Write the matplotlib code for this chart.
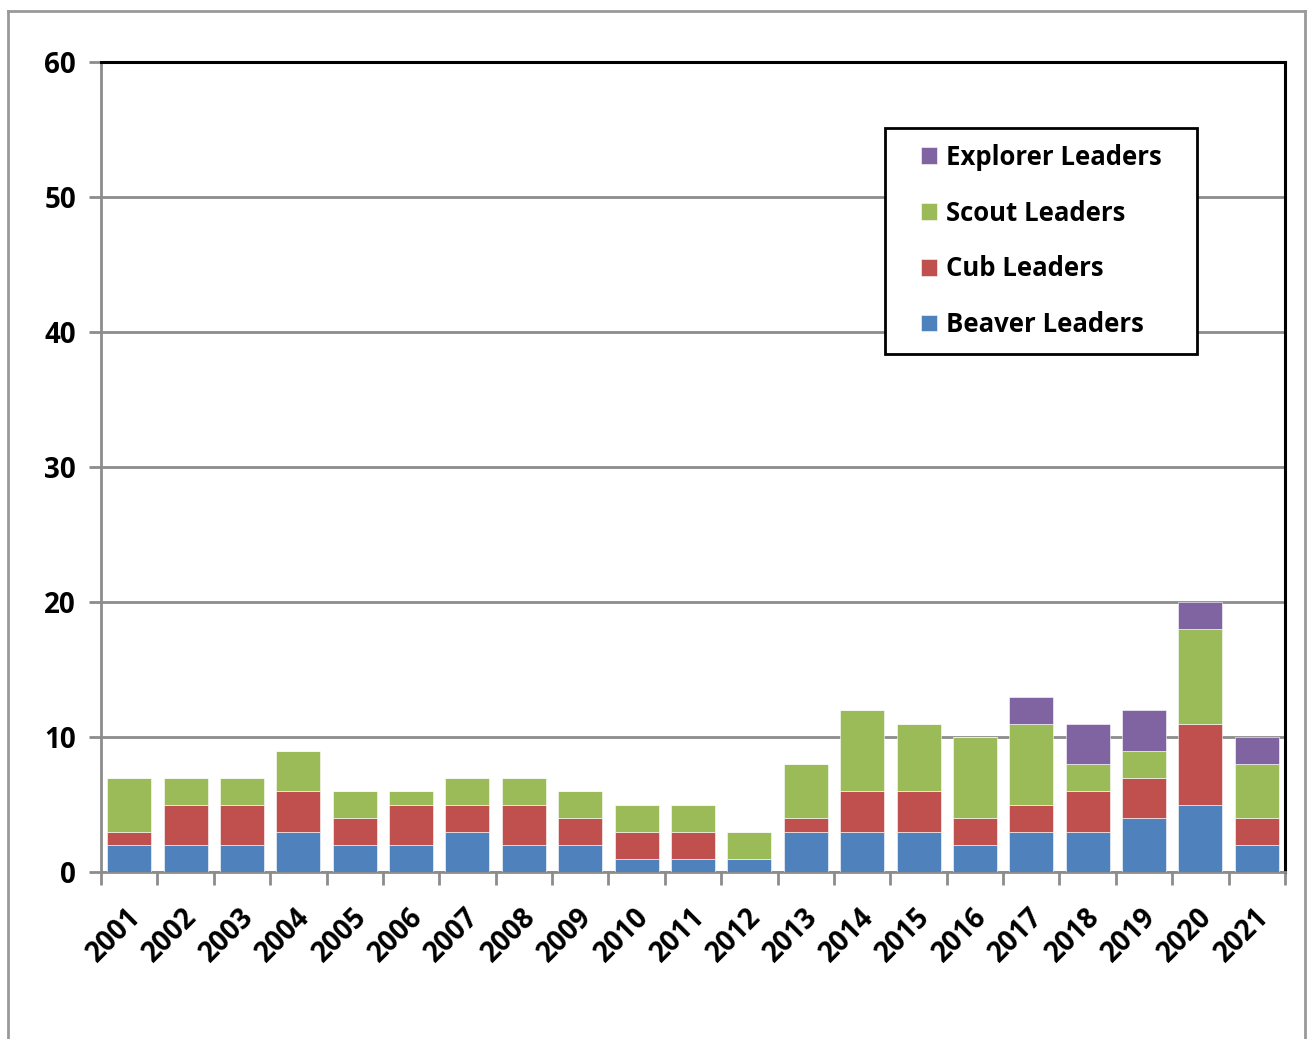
import numpy as np
import matplotlib
matplotlib.use('Agg')
import matplotlib.pyplot as plt
from matplotlib.lines import Line2D
from matplotlib.patches import Rectangle

# data
years = [str(y) for y in range(2001, 2022)]
beaver = [2, 2, 2, 3, 2, 2, 3, 2, 2, 1, 1, 1, 3, 3, 3, 2, 3, 3, 4, 5, 2]
cub = [1, 3, 3, 3, 2, 3, 2, 3, 2, 2, 2, 0, 1, 3, 3, 2, 2, 3, 3, 6, 2]
scout = [4, 2, 2, 3, 2, 1, 2, 2, 2, 2, 2, 2, 4, 6, 5, 6, 6, 2, 2, 7, 4]
explorer = [0, 0, 0, 0, 0, 0, 0, 0, 0, 0, 0, 0, 0, 0, 0, 0, 2, 3, 3, 2, 2]

series = [("Beaver Leaders", beaver, "#4F81BD"),
          ("Cub Leaders", cub, "#C0504D"),
          ("Scout Leaders", scout, "#9BBB59"),
          ("Explorer Leaders", explorer, "#8064A2")]

plt.rcParams['font.family'] = ['Open Sans', 'DejaVu Sans']
plt.rcParams['font.weight'] = 'bold'

fig = plt.figure(figsize=(13.11, 10.39), dpi=100)
ax = fig.add_axes([101 / 1311, 1 - 872 / 1039, 1184 / 1311, 810 / 1039])

x = np.arange(len(years))
bottom = np.zeros(len(years))
for name, vals, col in series:
    vals = np.array(vals)
    ax.bar(x, vals, 0.78, bottom=bottom, color=col, edgecolor='white',
           linewidth=0.4, label=name, zorder=3)
    bottom += vals

ax.set_xlim(-0.5, len(years) - 0.5)
ax.set_ylim(0, 60)
ax.set_yticks(range(0, 61, 10))
ax.yaxis.grid(True, color='#8c8c8c', linewidth=2, zorder=0)

# ticks at category boundaries, labels at centres
ax.set_xticks(np.arange(-0.5, len(years), 1))
ax.set_xticklabels([])
ax.set_xticks(x - 0.05, minor=True)
ax.set_xticklabels(years, minor=True, rotation=45, ha='right',
                   rotation_mode='anchor', fontsize=20, fontweight='bold')
ax.tick_params(axis='x', which='minor', length=0, pad=22)
ax.tick_params(axis='x', which='major', length=9, width=2, color='#8c8c8c')
ax.tick_params(axis='y', length=9, width=2, color='#8c8c8c', labelsize=20, pad=9)
for lab in ax.get_yticklabels():
    lab.set_fontweight('bold')

ax.spines['left'].set_color('#8c8c8c')
ax.spines['bottom'].set_color('#8c8c8c')
ax.spines['left'].set_linewidth(2)
ax.spines['bottom'].set_linewidth(2)
ax.spines['top'].set_color('black')
ax.spines['right'].set_color('black')
ax.spines['top'].set_linewidth(2.2)
ax.spines['right'].set_linewidth(2.2)

# legend box drawn separately, legend entries centred in it
box = Rectangle((0.662, 0.6395), 0.264, 0.279, transform=ax.transAxes,
                facecolor='white', edgecolor='black', linewidth=2, zorder=5)
ax.add_patch(box)
h, l = ax.get_legend_handles_labels()
leg = ax.legend(h[::-1], l[::-1], loc='center', bbox_to_anchor=(0.794, 0.779),
                borderaxespad=0, frameon=False,
                labelspacing=1.12, handlelength=0.62, handleheight=0.62,
                handletextpad=0.35, borderpad=0, prop={'weight': 'bold', 'size': 18.5})
leg.set_zorder(6)

# outer frame of the picture
fig.add_artist(Line2D([8 / 1311, 8 / 1311], [0, 1 - 11 / 1039], color='#999999', lw=2))
fig.add_artist(Line2D([8 / 1311, 1305 / 1311], [1 - 11 / 1039, 1 - 11 / 1039], color='#999999', lw=2))
fig.add_artist(Line2D([1305 / 1311, 1305 / 1311], [0, 1 - 11 / 1039], color='#999999', lw=2))

fig.savefig('out.png', dpi=100)
